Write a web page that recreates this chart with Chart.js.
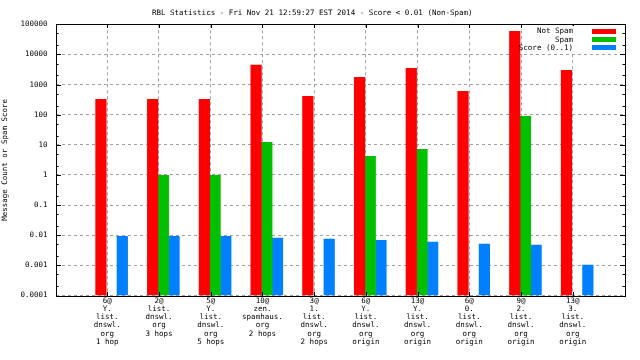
<!DOCTYPE html>
<html><head><meta charset="utf-8">
<script src="https://cdn.jsdelivr.net/npm/chart.js@4"></script>
<style>html,body{margin:0;padding:0;background:#fff}</style>
</head><body><canvas id="c" width="640" height="360"></canvas>
<script>
const titleText = 'RBL Statistics - Fri Nov 21 12:59:27 EST 2014 - Score < 0.01 (Non-Spam)';
const yAxisTitle = 'Message Count or Spam Score';
const categories = [
  ['6@','Y.','list.','dnswl.','org','1 hop'],
  ['2@','list.','dnswl.','org','3 hops'],
  ['5@','Y.','list.','dnswl.','org','5 hops'],
  ['10@','zen.','spamhaus.','org','2 hops'],
  ['3@','1.','list.','dnswl.','org','2 hops'],
  ['6@','Y.','list.','dnswl.','org','origin'],
  ['13@','Y.','list.','dnswl.','org','origin'],
  ['6@','0.','list.','dnswl.','org','origin'],
  ['9@','2.','list.','dnswl.','org','origin'],
  ['13@','3.','list.','dnswl.','org','origin']
];
const seriesNames = ['Not Spam', 'Spam', 'Score (0..1)'];
const notSpam = [330, 330, 330, 4570, 420, 1790, 3560, 615, 60000, 3050];
const spam    = [null, 1, 1, 12.5, null, 4.3, 7.3, null, 91, null];
const score   = [0.0095, 0.0095, 0.0095, 0.0082, 0.0076, 0.0070, 0.0061, 0.0052, 0.0048, 0.00105];
const yTickValues = [0.0001, 0.001, 0.01, 0.1, 1, 10, 100, 1000, 10000, 100000];
const yTickLabels = ['0.0001', '0.001', '0.01', '0.1', '1', '10', '100', '1000', '10000', '100000'];

const colors = ['#ff0000', '#00c000', '#0080ff'];
const FONT = {family: "'DejaVu Sans Mono', monospace", size: 7.5, lineHeight: 1.1, weight: 'normal'};
const GROUP_SHIFT = 0.085;
const GRID = '#a0a0a0';

const seriesValues = [notSpam, spam, score];
const datasets = seriesValues.map((vals, k) => ({
  label: seriesNames[k],
  data: vals.map((v, i) => ({x: i, y: v})),
  backgroundColor: colors[k],
  borderWidth: 0,
  xAxisID: 'x',
  yAxisID: 'y',
  categoryPercentage: 0.62,
  barPercentage: 1.05
}));

const framePlugin = {
  id: 'frame',
  afterDatasetsDraw(chart) {
    const ctx = chart.ctx;
    const a = chart.chartArea;
    const ys = chart.scales.y, xs = chart.scales.x2;
    const L = Math.round(a.left), R = Math.round(a.right), T = Math.round(a.top), B = Math.round(a.bottom);
    ctx.save();
    ctx.strokeStyle = '#000';
    ctx.lineWidth = 1;
    ctx.beginPath();
    const line = (x1, y1, x2, y2) => { ctx.moveTo(x1, y1); ctx.lineTo(x2, y2); };
    yTickValues.forEach((v, idx) => {
      const py = Math.round(ys.getPixelForValue(v)) + 0.5;
      line(L, py, L + 5, py); line(R, py, R - 5, py);
      if (idx < yTickValues.length - 1) {
        [2, 5].forEach(m => {
          const pm = Math.round(ys.getPixelForValue(v * m)) + 0.5;
          line(L, pm, L + 2.5, pm); line(R, pm, R - 2.5, pm);
        });
      }
    });
    categories.forEach((_, i) => {
      const px = Math.round(xs.getPixelForValue(i)) + 0.5;
      line(px, B, px, B - 4); line(px, T, px, T + 4);
    });
    ctx.stroke();
    ctx.strokeRect(L + 0.5, T + 0.5, R - L, B - T);
    const textRight = R - 52, boxL = R - 33, boxW = 24, rowH = 8.3, firstRow = T + 7.3;
    ctx.fillStyle = '#fff';
    ctx.fillRect(R - 102, T + 2, 98, 27);
    ctx.font = `${FONT.size}px ${FONT.family}`;
    ctx.textAlign = 'right';
    ctx.textBaseline = 'middle';
    chart.data.datasets.forEach((ds, k) => {
      const cy = firstRow + k * rowH;
      ctx.fillStyle = '#000';
      ctx.fillText(ds.label, textRight, cy);
      ctx.fillStyle = ds.backgroundColor;
      ctx.fillRect(boxL, Math.round(cy - 2.5), boxW, 5);
    });
    ctx.restore();
  }
};

new Chart(document.getElementById('c'), {
  type: 'bar',
  data: {datasets},
  options: {
    responsive: false,
    devicePixelRatio: 1,
    animation: false,
    layout: {padding: {left: 0, right: 15.5, top: 0, bottom: 0}},
    plugins: {
      legend: {display: false},
      tooltip: {enabled: false},
      title: {display: true, text: titleText, color: '#000', font: {...FONT, lineHeight: 1.2}, padding: {top: 8.5, bottom: 6.8}}
    },
    scales: {
      x: {
        type: 'linear', display: false, offset: false,
        min: -1 - GROUP_SHIFT, max: 10 - GROUP_SHIFT,
        grid: {offset: false, display: false}
      },
      x2: {
        type: 'linear', position: 'bottom', offset: false, min: -1, max: 10,
        grid: {offset: false, color: GRID, lineWidth: 1, drawTicks: false},
        border: {display: false, dash: [3, 3]},
        ticks: {padding: 1, color: '#000', font: {...FONT, lineHeight: 1.1}, maxRotation: 0, autoSkip: false,
                callback: v => categories[v]},
        afterBuildTicks: s => { s.ticks = categories.map((_, i) => ({value: i})); },
        afterFit: s => { s.height = 64.5; }
      },
      y: {
        type: 'logarithmic', min: 1e-4, max: 1e5,
        grid: {color: GRID, lineWidth: 1, drawTicks: false},
        border: {display: false, dash: [3, 3]},
        ticks: {padding: 8, color: '#000', font: FONT,
                callback: v => yTickLabels[yTickValues.indexOf(v)]},
        afterBuildTicks: s => { s.ticks = yTickValues.map(v => ({value: v})); },
        afterFit: s => { s.width = 55.5; },
        title: {display: true, text: yAxisTitle, color: '#000', font: FONT, padding: {top: 1, bottom: 0}}
      }
    }
  },
  plugins: [framePlugin]
});
</script>
</body></html>
